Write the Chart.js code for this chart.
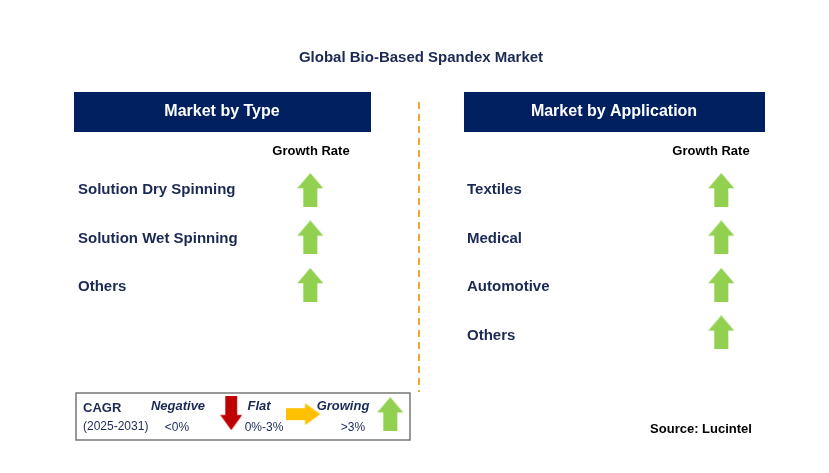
<!DOCTYPE html>
<html><head><meta charset="utf-8">
<script src="https://cdn.jsdelivr.net/npm/chart.js@4"></script>
<style>html,body{margin:0;padding:0;background:#fff}canvas{display:block}</style>
</head><body>
<canvas id="c" width="829" height="473" style="width:829px;height:473px"></canvas>
<script>
const title = 'Global Bio-Based Spandex Market';
const typeHeader = 'Market by Type';
const appHeader = 'Market by Application';
const growthLabel = 'Growth Rate';
const typeCategories = ['Solution Dry Spinning', 'Solution Wet Spinning', 'Others'];
const typeGrowth = ['growing', 'growing', 'growing'];
const appCategories = ['Textiles', 'Medical', 'Automotive', 'Others'];
const appGrowth = ['growing', 'growing', 'growing', 'growing'];
const source = 'Source: Lucintel';

const NAVY = '#002060';
const TXT = '#1b2a55';
const GREEN = '#92d050', RED = '#c00000', YEL = '#ffc000';

function arrowImg(dir, color, w, h) {
  const c = document.createElement('canvas');
  c.width = w; c.height = h;
  const g = c.getContext('2d');
  g.fillStyle = color;
  g.beginPath();
  if (dir === 'up' || dir === 'down') {
    const s = w * 0.27, hh = h * 0.45;
    let pts = [[w/2,0],[w,hh],[w/2+s,hh],[w/2+s,h],[w/2-s,h],[w/2-s,hh],[0,hh]];
    if (dir === 'down') pts = pts.map(p => [p[0], h - p[1]]);
    g.moveTo(pts[0][0], pts[0][1]); pts.slice(1).forEach(p => g.lineTo(p[0], p[1]));
  } else {
    const s = h * 0.27, hw = w * 0.55;
    const pts = [[w,h/2],[hw,0],[hw,h/2-s],[0,h/2-s],[0,h/2+s],[hw,h/2+s],[hw,h]];
    g.moveTo(pts[0][0], pts[0][1]); pts.slice(1).forEach(p => g.lineTo(p[0], p[1]));
  }
  g.closePath(); g.fill();
  return c;
}
const styleFor = {growing: arrowImg('up', GREEN, 26, 34), flat: arrowImg('right', YEL, 34, 22), negative: arrowImg('down', RED, 22, 34)};
const rowY = i => 189 + i * 48.5;

const typePts = typeGrowth.map((g, i) => ({x: 309, y: rowY(i)}));
const appPts = appGrowth.map((g, i) => ({x: 725, y: rowY(i)}));
const legendPts = [{x: 229, y: 417}, {x: 302, y: 418}, {x: 390, y: 418}];
const legendStyles = [styleFor.negative, styleFor.flat, styleFor.growing];

const deco = {
  id: 'deco',
  beforeDatasetsDraw(chart) {
    const g = chart.ctx;
    g.save();
    g.fillStyle = '#fff'; g.fillRect(0, 0, 829, 473);
    g.textBaseline = 'middle';
    g.fillStyle = TXT; g.font = 'bold 15px Arial, "Liberation Sans"'; g.textAlign = 'center';
    g.fillText(title, 421, 58);
    g.fillStyle = NAVY;
    g.fillRect(74, 92, 297, 40); g.fillRect(464, 92, 301, 40);
    g.fillStyle = '#fff'; g.font = 'bold 16px Arial, "Liberation Sans"';
    g.fillText(typeHeader, 222, 112); g.fillText(appHeader, 614, 112);
    g.fillStyle = '#000'; g.font = 'bold 13px Arial, "Liberation Sans"';
    g.fillText(growthLabel, 311, 151); g.fillText(growthLabel, 711, 151);
    g.textAlign = 'left'; g.fillStyle = TXT; g.font = 'bold 15px Arial, "Liberation Sans"';
    typeCategories.forEach((c, i) => g.fillText(c, 78, rowY(i) + 1));
    appCategories.forEach((c, i) => g.fillText(c, 467, rowY(i) + 1));
    g.strokeStyle = '#f0a830'; g.lineWidth = 2; g.setLineDash([7, 5]);
    g.beginPath(); g.moveTo(419, 102); g.lineTo(419, 392); g.stroke();
    g.setLineDash([]);
    g.strokeStyle = '#777'; g.lineWidth = 1.5; g.strokeRect(76, 393, 334, 47);
    g.fillStyle = TXT; g.font = 'bold 13px Arial, "Liberation Sans"';
    g.fillText('CAGR', 83, 408);
    g.font = '12px Arial, "Liberation Sans"'; g.fillText('(2025-2031)', 83, 427);
    g.font = 'bold italic 13px Arial, "Liberation Sans"'; g.textAlign = 'center';
    g.fillText('Negative', 178, 406); g.fillText('Flat', 259, 406); g.fillText('Growing', 343, 406);
    g.font = '12px Arial, "Liberation Sans"';
    g.fillText('<0%', 177, 428); g.fillText('0%-3%', 264, 428); g.fillText('>3%', 353, 428);
    g.fillStyle = '#000'; g.font = 'bold 13px Arial, "Liberation Sans"';
    g.fillText(source, 701, 429);
    g.restore();
  }
};

new Chart(document.getElementById('c'), {
  type: 'scatter',
  data: {datasets: [
    {data: typePts, pointStyle: typeGrowth.map(g => styleFor[g])},
    {data: appPts, pointStyle: appGrowth.map(g => styleFor[g])},
    {data: legendPts, pointStyle: legendStyles}
  ]},
  options: {
    responsive: false, animation: false, devicePixelRatio: 1,
    layout: {padding: 0},
    plugins: {legend: {display: false}, tooltip: {enabled: false}},
    scales: {x: {display: false, min: 0, max: 829}, y: {display: false, min: 0, max: 473, reverse: true}}
  },
  plugins: [deco]
});
</script>
</body></html>
